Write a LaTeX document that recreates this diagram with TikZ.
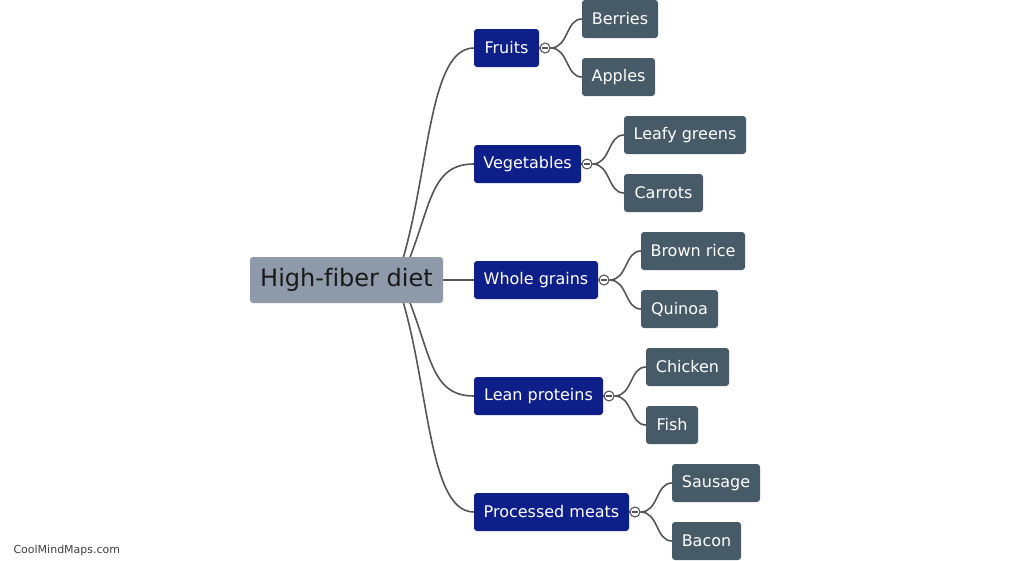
\documentclass[tikz,border=0pt]{standalone}
\usepackage{fontspec}
\setmainfont[Ligatures=NoCommon]{DejaVu Sans}
\usetikzlibrary{backgrounds}

\definecolor{rootfill}{HTML}{8E9AAA}
\definecolor{branchfill}{HTML}{0E1F8A}
\definecolor{leaffill}{HTML}{465A68}
\definecolor{linkcol}{HTML}{555555}

\tikzset{
  topic/.style={rounded corners=3pt, inner sep=0pt, text=white,
    font=\fontsize{16}{19}\selectfont},
  rootbox/.style={topic, fill=rootfill, text=black!90, minimum width=193pt,
    minimum height=46pt, font=\fontsize{24}{28}\selectfont},
  branch/.style={topic, fill=branchfill, minimum height=38pt},
  leaf/.style={topic, fill=leaffill, minimum height=38pt},
  link/.style={draw=linkcol, line width=1.6pt},
  toggle/.style={circle, draw=linkcol, line width=1.1pt, fill=white,
    minimum size=10pt, inner sep=0pt,
    path picture={\draw[line width=1.3pt, linkcol]
      ([xshift=-2.8pt]path picture bounding box.center) --
      ([xshift=2.8pt]path picture bounding box.center);}},
}

\begin{document}
\begin{tikzpicture}[x=1pt, y=-1pt]
  \useasboundingbox (0,0) rectangle (1022,560);

  % Root
  \node[rootbox] (root) at (346.5,280) {High-fiber diet};

  % Branches
  \node[branch, minimum width=65pt]  (fru) at (506.5,48)  {Fruits};
  \node[branch, minimum width=107pt] (veg) at (527.5,164) {Vegetables};
  \node[branch, minimum width=124pt] (gra) at (536,280)   {Whole grains};
  \node[branch, minimum width=129pt] (pro) at (538.5,396) {Lean proteins};
  \node[branch, minimum width=155pt] (mea) at (551.5,512) {Processed meats};

  % Toggles
  \node[toggle] (fru-t) at (545,48)  {};
  \node[toggle] (veg-t) at (587,164) {};
  \node[toggle] (gra-t) at (604,280) {};
  \node[toggle] (pro-t) at (609,396) {};
  \node[toggle] (mea-t) at (635,512) {};

  % Leaves
  \node[leaf, minimum width=76pt]  (ber) at (620,19)    {Berries};
  \node[leaf, minimum width=73pt]  (app) at (618.5,77)  {Apples};
  \node[leaf, minimum width=122pt] (lea) at (685,135)   {Leafy greens};
  \node[leaf, minimum width=79pt]  (car) at (663.5,193) {Carrots};
  \node[leaf, minimum width=104pt] (ric) at (693,251)   {Brown rice};
  \node[leaf, minimum width=77pt]  (qui) at (679.5,309) {Quinoa};
  \node[leaf, minimum width=83pt]  (chi) at (687.5,367) {Chicken};
  \node[leaf, minimum width=52pt]  (fis) at (672,425)   {Fish};
  \node[leaf, minimum width=88pt]  (sau) at (716,483)   {Sausage};
  \node[leaf, minimum width=69pt]  (bac) at (706.5,541) {Bacon};

  \node[anchor=west, text=black!75, font=\fontsize{11}{13}\selectfont]
    (credit) at (10,550) {CoolMindMaps.com};

  \begin{scope}[on background layer]
    % root to branches
    \draw[link] ([shift={(45.5,10)}]root.center) .. controls +(38,-90) and +(-50,0) .. (fru.west);
    \draw[link] ([shift={(51.5,5)}]root.center) .. controls +(34,-70) and +(-48,0) .. (veg.west);
    \draw[link] (root.east) -- (gra.west);
    \draw[link] ([shift={(51.5,-5)}]root.center) .. controls +(34,70) and +(-48,0) .. (pro.west);
    \draw[link] ([shift={(45.5,-10)}]root.center) .. controls +(38,90) and +(-50,0) .. (mea.west);

    % branches to toggles
    \draw[link] (fru.east) -- (fru-t);
    \draw[link] (veg.east) -- (veg-t);
    \draw[link] (gra.east) -- (gra-t);
    \draw[link] (pro.east) -- (pro-t);
    \draw[link] (mea.east) -- (mea-t);

    % toggles to leaves
    \draw[link] (fru-t.east) .. controls +(18,0) and +(-16,0) .. (ber.west);
    \draw[link] (fru-t.east) .. controls +(18,0) and +(-16,0) .. (app.west);
    \draw[link] (veg-t.east) .. controls +(18,0) and +(-16,0) .. (lea.west);
    \draw[link] (veg-t.east) .. controls +(18,0) and +(-16,0) .. (car.west);
    \draw[link] (gra-t.east) .. controls +(18,0) and +(-16,0) .. (ric.west);
    \draw[link] (gra-t.east) .. controls +(18,0) and +(-16,0) .. (qui.west);
    \draw[link] (pro-t.east) .. controls +(18,0) and +(-16,0) .. (chi.west);
    \draw[link] (pro-t.east) .. controls +(18,0) and +(-16,0) .. (fis.west);
    \draw[link] (mea-t.east) .. controls +(18,0) and +(-16,0) .. (sau.west);
    \draw[link] (mea-t.east) .. controls +(18,0) and +(-16,0) .. (bac.west);
  \end{scope}
\end{tikzpicture}
\end{document}
